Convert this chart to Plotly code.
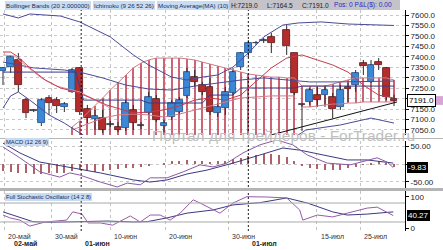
import plotly.graph_objects as go
from plotly.subplots import make_subplots

# ---------------- data ----------------
idx = [0, 1, 2, 3, 4, 5, 6, 7, 8, 9, 10, 11, 12, 13, 14, 15, 16, 17, 18, 19,
       20, 21, 22, 23, 24, 25, 26, 27, 28, 29, 30, 31, 32, 33, 34, 35,
       37, 38, 39, 40, 41, 42, 43, 44, 45, 46, 47, 48, 49, 50, 51]
opens = [7332, 7351, 7385, 7193, 7146, 7083, 7203, 7193, 7160, 7232,
         7347, 7150, 7103, 7107, 7079, 7064, 7060, 7146, 7071, 7131,
         7198, 7069, 7112, 7136, 7213, 7303, 7265, 7256, 7131, 7155,
         7227, 7351, 7418, 7466, 7478, 7495,
         7528, 7418, 7172, 7184, 7217, 7217, 7208, 7160, 7256, 7265, 7370, 7280, 7375, 7347, 7200]
highs = [7351, 7409, 7418, 7203, 7150, 7203, 7217, 7208, 7184, 7347,
         7351, 7170, 7146, 7146, 7093, 7088, 7193, 7170, 7088, 7232,
         7217, 7098, 7193, 7208, 7347, 7337, 7280, 7299, 7179, 7256,
         7347, 7423, 7480, 7476, 7490, 7514,
         7552, 7418, 7174, 7251, 7256, 7265, 7227, 7265, 7275, 7337, 7385, 7385, 7394, 7351, 7219]
lows = [7265, 7323, 7232, 7107, 7136, 7069, 7122, 7131, 7136, 7227,
        7122, 7083, 7050, 7036, 7064, 7040, 7045, 7050, 7055, 7122,
        7088, 7040, 7098, 7122, 7203, 7256, 7217, 7122, 7112, 7122,
        7217, 7337, 7399, 7457, 7466, 7418,
        7409, 7217, 7045, 7170, 7160, 7160, 7107, 7146, 7184, 7232, 7313, 7275, 7337, 7193, 7164.5]
closes = [7347, 7399, 7265, 7131, 7142, 7193, 7179, 7165, 7174, 7337,
          7136, 7107, 7117, 7050, 7076, 7050, 7179, 7083, 7069, 7208,
          7098, 7083, 7179, 7193, 7327, 7280, 7232, 7136, 7160, 7232,
          7327, 7418, 7466, 7468, 7480, 7466,
          7452, 7227, 7170, 7241, 7193, 7241, 7150, 7241, 7246, 7323, 7356, 7361, 7361, 7208, 7191]

# Ichimoku cloud (hatched) boundaries per bar
cloud_idx = [9, 10, 11, 12, 13, 14, 15, 16, 17, 18, 19, 20, 21, 22, 23, 24, 25, 26, 27, 28,
             29, 30, 31, 32, 33, 34, 35, 36, 37, 38, 39, 40, 41, 42, 43, 44, 45, 46, 47, 48,
             49, 50, 51]
cloud_top = [7064, 7093, 7131, 7165, 7203, 7241, 7275, 7313, 7347, 7370,
             7385, 7394, 7394, 7394, 7394, 7390, 7385, 7375, 7366, 7356,
             7347, 7337, 7327, 7318, 7313, 7308, 7303, 7303, 7299, 7299,
             7260, 7260, 7260, 7260, 7270, 7280, 7289, 7299, 7299, 7299,
             7299, 7299, 7289]
cloud_bot = [6990, 6990, 6990, 6990, 6990, 6990, 6990, 6990, 6990, 6990,
             6990, 6990, 6990, 6990, 6990, 6990, 6990, 6990, 6990, 6990,
             6990, 6990, 6990, 6990, 6990, 6990, 6990, 6990, 6990, 6990,
             7160, 7160, 7165, 7170, 7174, 7174, 7179, 7179, 7184, 7184,
             7184, 7184, 7184]
senkou_x = [9, 11, 13, 15, 17, 19, 21, 23, 25, 27, 29, 31, 33, 35, 37, 38]
senkou_y = [7050, 7079, 7107, 7122, 7126, 7122, 7112, 7126, 7146, 7165, 7184, 7203, 7208, 7213, 7213, 7213]

bb_up_x = [0, 2, 3.5, 7.5, 10, 14, 17, 19, 22, 24, 26, 28, 30, 32, 34, 36.5, 38.5, 41.5, 45, 51]
bb_up_y = [7605, 7586, 7605, 7595, 7567, 7495, 7409, 7361, 7303, 7289, 7303, 7313, 7351, 7418,
           7495, 7552, 7562, 7567, 7557, 7550]
bb_lo_x = [0, 1, 2, 3.5, 6, 8, 10, 12, 20, 30, 37, 39.5, 44, 48, 51]
bb_lo_y = [7155, 7213, 7232, 7193, 7122, 7083, 7036, 6990, 6950, 6950, 6990, 7050, 7074, 7107, 7083]
bb_mid_x = [0, 4, 8, 10, 13, 16, 19, 22, 25, 28, 31, 34, 37, 40, 44, 48, 51]
bb_mid_y = [7375, 7347, 7337, 7327, 7299, 7265, 7246, 7241, 7260, 7275, 7289, 7299, 7289, 7280,
            7280, 7284, 7284]
kijun_x = [0, 6, 9.5, 10.5, 12, 18, 19, 26, 27, 30, 31, 38, 39, 51]
kijun_y = [7327, 7327, 7327, 7193, 7193, 7193, 7179, 7179, 7217, 7217, 7251, 7251, 7260, 7260]
tenkan_x = [0, 1.5, 3, 5, 7, 9, 10, 12, 14]
tenkan_y = [7409, 7404, 7356, 7299, 7260, 7241, 7232, 7193, 7155]
ma_x = [0, 1, 2, 3.5, 5.5, 7.5, 9.5, 11.5, 13.5, 15.5, 17, 19, 21, 23, 25, 27, 29, 31, 33, 35,
        37, 39, 41, 43, 45, 47, 49, 51]
ma_y = [7423, 7423, 7399, 7347, 7289, 7251, 7232, 7203, 7170, 7146, 7131, 7136, 7146, 7165,
        7193, 7203, 7193, 7217, 7280, 7347, 7394, 7409, 7385, 7361, 7327, 7265, 7217, 7203]
trend_x = [33.8, 51.4]
trend_y = [7015, 7184]

# MACD panel
macd_x = [0, 2.2, 4.8, 7.4, 8.7, 10, 12.7, 14.9, 16.2, 17.9, 19.2, 21.4, 23.5, 25.7, 27.4,
          29.2, 31.3, 33.5, 35.7, 37.8, 39.7, 42.3, 45.3, 46.6, 48.8, 50.1, 50.9]
macd_y = [49, 18, -22, -37, -25, -31, -51, -65, -54, -59, -39, -39, -22, -2, -8,
          3, 32, 55, 69, 55, 26, 3, -2, 6, 18, 6, -9.83]
sig_x = [0, 2.2, 4.8, 8.3, 12.7, 17, 19.2, 21.4, 24, 26.6, 30, 33.5, 36.5, 38.7, 41.7, 44.9,
         47.5, 50, 50.9]
sig_y = [60, 32, 6, -8, -25, -45, -51, -45, -28, -17, 3, 26, 46, 40, 26, 12, 12, 6, 3]
hist_y = [-20, -22, -25, -26, -28, -27, -25, -24, -24, -20, -18, -20, -22, -20, -16, -14, -12,
          -10, -8, -4, 0, 4, 8, 10, 12, 10, 8, 6, 8, 10, 14, 18, 22, 26, 28, 29, 26, 20, 10,
          -4, -10, -14, -16, -18, -16, -12, -8, -2, 4, 8, 2, -8]
macd_last = -9.83

# Stochastic panel
stk_x = [0, 0.9, 2.2, 3.5, 5.5, 8.3, 9.1, 10.3, 11.1, 12.7, 14.3, 16.6, 17.9, 19.2, 20.5, 21.8,
         23.1, 24.8, 25.7, 28.3, 30, 31.8, 34.4, 37, 38.7, 39.1, 41, 43, 44.9, 47.5, 48.8, 50,
         50.9]
stk_y = [42, 33, 26, 7, 20, 26, 52, 45, 17, 17, 10, 39, 20, 42, 42, 26, 48, 90, 80, 48, 80,
         100, 99, 96, 58, 26, 42, 36, 48, 64, 67, 52, 40.27]
std_x = [0, 3.9, 6.1, 10, 13.6, 17, 18.8, 21.4, 24, 27.4, 30, 33.5, 37, 39.7, 43, 44.9, 47.5,
         50.9]
std_y = [52, 21, 19, 21, 23, 20, 21, 33, 48, 58, 74, 81, 96, 80, 52, 42, 45, 52]
stoch_levels = [20, 80]
stoch_last = 40.27

price_ticks = [7050, 7100, 7150, 7200, 7250, 7300, 7350, 7400, 7450, 7500, 7550, 7600]
macd_ticks = [-50, 0, 50]
stoch_ticks = [0, 100]

grid_pos = [0.2, 6.3, 14.0, 21.2, 29.4, 40.9, 46.6]
tick_text = ["20-май", "30-май", "10-июн", "20-июн", "30-июн", "15-июл", "25-июл"]
month_pos = [10.2, 32.0]
month_lab_pos = [1.2, 10.4, 32.2]
month_text = ["02-май", "01-июн", "01-июл"]

# ---------------- layout helpers ----------------
W, H = 443, 250
X0_PX, DX_PX, PLOT_R = 3.0, 7.667, 405.0


def px_x(p):
    return p / W


def px_y(p):
    return 1 - p / H


def px_to_idx(p):
    return (p - X0_PX) / DX_PX


FONT = "Liberation Sans"
BLUE, BLUE_L = "#3a88d6", "#1d4a86"
RED, RED_L = "#b52c2c", "#5c1414"
NAVY = "#4a4a98"
PINK = "#d27a88"
HATCH = "#c24a5c"

fig = make_subplots(rows=3, cols=1, shared_xaxes=True, vertical_spacing=0.02)

# cloud hatch (thin bars so candles sit on top)
fig.add_trace(go.Bar(x=cloud_idx, y=[t - b for t, b in zip(cloud_top, cloud_bot)], base=cloud_bot,
                     width=0.13, marker=dict(color=HATCH, line=dict(width=0)), opacity=0.85),
              row=1, col=1)

# candles
groups = {"up": ([], [], []), "dn": ([], [], []), "dj": ([], [], [])}
wx, wy = [], []
for i, o, h, l, c in zip(idx, opens, highs, lows, closes):
    bot = min(o, c)
    body = max(abs(c - o), 2.5)
    top = bot + body
    key = "dj" if abs(c - o) < 5 else ("up" if c > o else "dn")
    groups[key][0].append(i)
    groups[key][1].append(bot)
    groups[key][2].append(body)
    wx += [i, i, None, i, i, None]
    wy += [h, top, None, bot, l, None]

styles = {"up": (BLUE, BLUE_L), "dn": (RED, RED_L), "dj": ("#555566", "#333344")}
for k, (gx, gb, gh) in groups.items():
    fill, line = styles[k]
    fig.add_trace(go.Bar(x=gx, y=gh, base=gb, width=0.86,
                         marker=dict(color=fill, line=dict(color=line, width=0.8))),
                  row=1, col=1)

fig.add_trace(go.Scatter(x=wx, y=wy, mode="lines", line=dict(color="#2a2a2a", width=1)), row=1, col=1)


def add_line(x, y, color, width=1, row=1):
    fig.add_trace(go.Scatter(x=x, y=y, mode="lines", line=dict(color=color, width=width),
                             cliponaxis=True), row=row, col=1)


add_line(cloud_idx, cloud_top, PINK)
add_line(cloud_idx[30:], cloud_bot[30:], PINK)
add_line(senkou_x, senkou_y, PINK)
add_line(bb_up_x, bb_up_y, NAVY)
add_line(bb_lo_x, bb_lo_y, NAVY)
add_line(bb_mid_x, bb_mid_y, NAVY)
add_line(kijun_x, kijun_y, "#3a3a86")
add_line(tenkan_x, tenkan_y, "#d890a0")
add_line(ma_x, ma_y, "#c63a4c")
add_line(trend_x, trend_y, "#111111")

# MACD
hist_x = list(range(len(hist_y)))
fig.add_trace(go.Bar(x=hist_x, y=hist_y, width=0.14, marker=dict(color="#b06068", line=dict(width=0))),
              row=2, col=1)
add_line(sig_x, sig_y, "#3a3a80", row=2)
add_line(macd_x, macd_y, "#8a5aa8", row=2)

# Stochastic
add_line(std_x, std_y, "#3a3a80", row=3)
add_line(stk_x, stk_y, "#9a5aa8", row=3)

# ---------------- axes ----------------
xr = [px_to_idx(0), px_to_idx(PLOT_R)]
for n in ("xaxis", "xaxis2", "xaxis3"):
    fig.layout[n].update(domain=[0, px_x(PLOT_R)], range=xr, showticklabels=False,
                         tickvals=grid_pos, showgrid=True, griddash="dot", gridcolor="#c4c4c4",
                         gridwidth=1, zeroline=False, showline=False, ticks="", automargin=False)

axis_common = dict(side="right", showline=True, linecolor="#000", linewidth=1, ticks="outside",
                   ticklen=3, tickcolor="#000", tickfont=dict(family=FONT, size=8, color="#1a1a1a"),
                   zeroline=False, automargin=False)
fig.layout.yaxis.update(domain=[px_y(135), px_y(10)], range=[7026, 7624], tickvals=price_ticks,
                        ticktext=[f"{v:.1f}" for v in price_ticks], showgrid=True, griddash="dot",
                        gridcolor="#c8c8c8", **axis_common)
fig.layout.yaxis2.update(domain=[px_y(188), px_y(141)], range=[-68, 66], tickvals=macd_ticks,
                         ticktext=[f"{v:.2f}" for v in macd_ticks], showgrid=True, griddash="dot",
                         gridcolor="#c8c8c8", **axis_common)
fig.layout.yaxis3.update(domain=[px_y(231), px_y(191)], range=[-8.5, 118], tickvals=stoch_ticks,
                         ticktext=[str(v) for v in stoch_ticks], showgrid=False, **axis_common)

# ---------------- shapes ----------------
shapes = []
for m in month_pos:
    shapes.append(dict(type="line", xref="x", yref="paper", x0=m, x1=m, y0=px_y(231), y1=px_y(10),
                       line=dict(color="#000", width=0.9, dash="2px,2px")))
for lv in stoch_levels:
    shapes.append(dict(type="line", xref="paper", yref="y3", x0=0, x1=px_x(PLOT_R), y0=lv, y1=lv,
                       line=dict(color="#a8a8a8", width=1)))
# separators
shapes.append(dict(type="rect", xref="paper", yref="paper", x0=0, x1=1, y0=px_y(191), y1=px_y(188),
                   fillcolor="#b4b4b4", line=dict(width=0)))
shapes.append(dict(type="line", xref="paper", yref="paper", x0=0, x1=1, y0=px_y(138.5), y1=px_y(138.5),
                   line=dict(color="#b8b8b8", width=1)))
# header box
shapes.append(dict(type="rect", xref="paper", yref="paper", x0=px_x(229), x1=px_x(400), y0=px_y(10),
                   y1=1, fillcolor="#c3c3c9", line=dict(width=0)))
# price marker tail
shapes.append(dict(type="rect", xref="paper", yref="y", x0=px_x(433), x1=1, y0=closes[-1] - 21,
                   y1=closes[-1] + 21, fillcolor="#d6a6d6", line=dict(width=0)))

# ---------------- annotations ----------------
ann = []


def label(text, x, y, size=6.2, color="#1a2a5a", bg=None, anchor="left", bold=False, border=None,
          yref="paper", family=FONT):
    t = f"<b>{text}</b>" if bold else text
    ann.append(dict(text=t, x=x, y=y, xref="paper", yref=yref, xanchor=anchor, yanchor="middle",
                    showarrow=False, font=dict(family=family, size=size, color=color),
                    bgcolor=bg, borderpad=1, bordercolor=border, borderwidth=1 if border else 0))


LB = "#c8dcf2"
label("Bollinger Bands (20 2.000000)", px_x(5), px_y(5), bg=LB)
label("Ichimoku (9 26 52 26)", px_x(93), px_y(5), bg=LB)
label("Moving Average(MA) (10)", px_x(157), px_y(5), bg=LB)
label(f"H:{highs[-1]:.1f}", px_x(230), px_y(5), size=6.6, color="#222")
label(f"L:{lows[-1]:.1f}", px_x(266), px_y(5), size=6.6, color="#222")
label(f"C:{closes[-1]:.1f}", px_x(301), px_y(5), size=6.6, color="#222")
label("Pos: 0 P&L($): 0.00", px_x(333), px_y(5), size=6.6, color="#2a2ac8")
label("MACD (12 26 9)", px_x(5), px_y(141.5), bg=LB, size=5.8)
label("Full Stochastic Oscillator (14 2 8)", px_x(5), px_y(196.5), bg=LB, size=5.8)

# watermark
label("Портал для трейдеров - ForTrader.ru", px_x(283), px_y(135), size=15.5, color="#c0c0c0",
      anchor="center")

# right value markers
label(f"{closes[-1]:.1f}", px_x(406.5), closes[-1], size=8, color="#000", bg="#ffffff",
      border="#000", yref="y")
label(f"{macd_last:.2f}", px_x(407), macd_last, size=8, color="#fff", bg="#000", yref="y2")
label(f"{stoch_last:.2f}", px_x(407), stoch_last, size=8, color="#fff", bg="#000", yref="y3")

# x labels
for p, t in zip(grid_pos, tick_text):
    ann.append(dict(text=t, x=p + 0.25, y=px_y(236.5), xref="x3", yref="paper", xanchor="left",
                    yanchor="middle", showarrow=False, font=dict(family=FONT, size=7, color="#333")))
for p, t in zip(month_lab_pos, month_text):
    ann.append(dict(text=f"<b>{t}</b>", x=p, y=px_y(243.5), xref="x3", yref="paper", xanchor="left",
                    yanchor="middle", showarrow=False, font=dict(family=FONT, size=7, color="#222")))

fig.update_layout(width=W, height=H, margin=dict(l=0, r=0, t=0, b=0), paper_bgcolor="#fff",
                  plot_bgcolor="#fff", showlegend=False, barmode="overlay", bargap=0,
                  shapes=shapes, annotations=ann)

fig.write_html("out.html")
